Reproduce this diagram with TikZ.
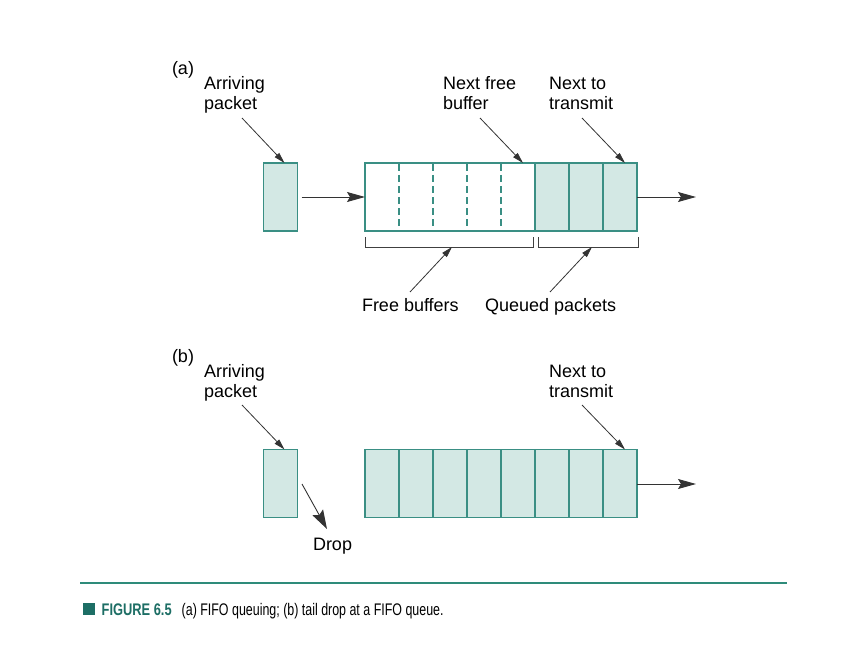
\documentclass[tikz,border=0pt]{standalone}
\usepackage{fontspec}
\setmainfont{Liberation Sans}
\usetikzlibrary{arrows.meta}
\definecolor{tealline}{HTML}{3A8F84}
\definecolor{tealfill}{HTML}{D3E8E4}
\definecolor{capline}{HTML}{2E8B7A}
\definecolor{capsq}{HTML}{1D6E65}
\definecolor{captext}{HTML}{1D6E65}
\begin{document}
\begin{tikzpicture}[x=1pt,y=-1pt,
  lbl/.style={anchor=base west,inner sep=0pt,outer sep=0pt,align=left,
    font=\fontsize{18pt}{20pt}\selectfont},
  cell/.style={minimum width=34pt,minimum height=68pt,inner sep=0pt,outer sep=0pt,
    draw=tealline,fill=tealfill,line width=1.1pt},
  freecell/.style={minimum width=34pt,minimum height=68pt,inner sep=0pt,outer sep=0pt},
  callout/.style={draw=black!80,line width=0.8pt,-{Triangle[length=11pt,width=6pt]}},
  mainarrow/.style={draw=black!80,line width=0.9pt,-{Stealth[length=18pt,width=10pt,inset=3pt]}},
  droparrow/.style={draw=black!80,line width=0.9pt,-{Stealth[length=19pt,width=12pt,inset=3pt]}},
  bracket/.style={draw=black!75,line width=0.9pt}
]
\useasboundingbox (0,0) rectangle (853,663);

% ---------------- (a) ----------------
\node[lbl] (la) at (172,75) {(a)};
\node[lbl] (arra) at (204,110) {Arriving\\packet};
\node[lbl] (nfb) at (443,110) {Next free\\buffer};
\node[lbl] (ntta) at (549,110) {Next to\\transmit};

\node[cell] (pa) at (280.5,197) {};

\foreach \i in {1,...,5} {
  \node[freecell] (a\i) at ({348+34*\i},197) {};
}
\foreach \i in {6,7,8} {
  \node[cell] (a\i) at ({348+34*\i},197) {};
}
\foreach \i in {1,...,4} {
  \draw[tealline,line width=1.1pt,dash pattern=on 7pt off 4pt,dash phase=-1pt]
    (a\i.north east) -- (a\i.south east);
}
\draw[tealline,line width=1.1pt] (a1.north west) rectangle (a8.south east);

\coordinate (ca1) at (242,118);
\coordinate (cb1) at (480,118);
\coordinate (cc1) at (582,118);
\draw[callout] (ca1) -- ([xshift=4pt]pa.north);
\draw[callout] (cb1) -- ([xshift=-12pt]a6.north west);
\draw[callout] (cc1) -- ([xshift=5pt]a8.north);

\draw[mainarrow] ([xshift=4pt]pa.east) -- (a1.west);
\coordinate (outa) at (696,197);
\draw[mainarrow] (a8.east) -- (outa);

% brackets
\draw[bracket] ([yshift=-6pt]a1.south west) -- ++(0,10) -| ([xshift=-2pt,yshift=-6pt]a5.south east);
\draw[bracket] ([xshift=3pt,yshift=-6pt]a6.south west) -- ++(0,10) -| ([xshift=1pt,yshift=-6pt]a8.south east);

\node[lbl] (fb) at (362,311) {Free buffers};
\node[lbl] (qp) at (485,311) {Queued packets};
\coordinate (fbs) at (410,292);
\coordinate (fbe) at (452,247);
\coordinate (qps) at (550,292);
\coordinate (qpe) at (592,247);
\draw[callout] (fbs) -- (fbe);
\draw[callout] (qps) -- (qpe);

% ---------------- (b) ----------------
\node[lbl] (lb) at (172,362) {(b)};
\node[lbl] (arrb) at (204,397) {Arriving\\packet};
\node[lbl] (nttb) at (549,397) {Next to\\transmit};

\node[cell] (pb) at (280.5,483.5) {};
\foreach \i in {1,...,8} {
  \node[cell] (b\i) at ({348+34*\i},483.5) {};
}
\coordinate (ca2) at (242,405);
\coordinate (cc2) at (582,405);
\draw[callout] (ca2) -- ([xshift=4pt]pb.north);
\draw[callout] (cc2) -- ([xshift=5pt]b8.north);

\coordinate (outb) at (696,484);
\draw[mainarrow] (b8.east |- outb) -- (outb);

\node[lbl] (drop) at (313,550) {Drop};
\coordinate (ds) at (302,484);
\coordinate (de) at (327,529);
\draw[droparrow] (ds) -- (de);

% ---------------- caption ----------------
\draw[capline,line width=1.2pt] (80,583) -- (787,583);
\fill[capsq] (83,602.5) rectangle (95,615);
\node[anchor=base west,inner sep=0pt,text=captext,font=\fontsize{16.8pt}{18pt}\selectfont\bfseries] (fig) at (101.5,615)
  {\scalebox{0.765}[1]{FIGURE 6.5}};
\node[anchor=base west,inner sep=0pt,font=\fontsize{16.8pt}{18pt}\selectfont] (cap) at (181.5,615)
  {\scalebox{0.74}[1]{(a) FIFO queuing; (b) tail drop at a FIFO queue.}};
\end{tikzpicture}
\end{document}
